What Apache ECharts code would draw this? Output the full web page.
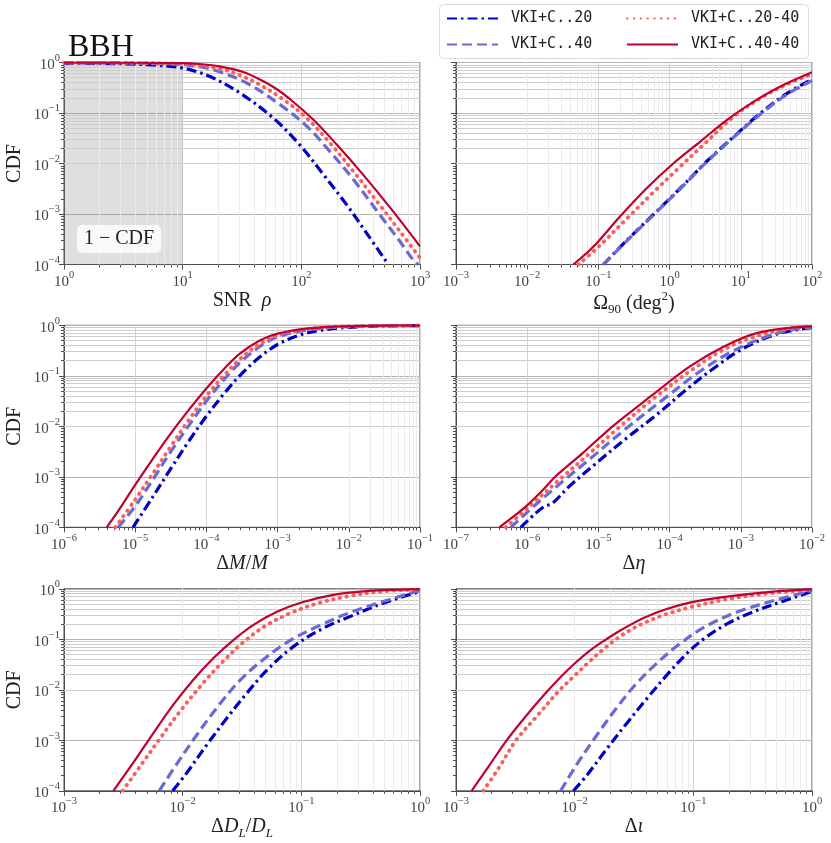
<!DOCTYPE html>
<html>
<head>
<meta charset="utf-8">
<title>BBH CDF</title>
<script src="https://cdn.jsdelivr.net/npm/echarts@6/dist/echarts.min.js"></script>
<style>
html, body { margin: 0; padding: 0; background: #fff; }
#main { width: 831px; height: 843px; }
</style>
</head>
<body>
<div id="main"></div>
<script>
// curves, stored as [log10 x, log10 CDF]
var seriesNames = ['VKI+C..20', 'VKI+C..40', 'VKI+C..20-40', 'VKI+C..40-40'];

// x axis ranges, in decades
var xDecades = [[0, 3], [-3, 2], [-6, -1], [-7, -2], [-3, 0], [-3, 0]];
var yDecades = [-4, 0];

// SNR rho (1 - CDF)
var snr20 = [[0,-0.012],[0.5,-0.025],[0.75,-0.05],[0.88,-0.07],[1.0,-0.109],[1.13,-0.19],[1.258,-0.307],[1.483,-0.604],[1.764,-1.10],[1.99,-1.64],[2.186,-2.22],[2.383,-2.82],[2.55,-3.38],[2.733,-4.0]];
var snr40 = [[0,-0.005],[0.5,-0.01],[0.75,-0.02],[1.0,-0.043],[1.13,-0.08],[1.258,-0.142],[1.54,-0.406],[1.82,-0.835],[2.045,-1.26],[2.24,-1.76],[2.44,-2.32],[2.66,-3.01],[2.83,-3.54],[2.94,-3.90],[2.985,-4.0]];
var snr2040 = [[0,-0.004],[0.5,-0.008],[0.75,-0.015],[1.0,-0.03],[1.31,-0.122],[1.48,-0.25],[1.65,-0.44],[1.85,-0.736],[2.045,-1.10],[2.24,-1.59],[2.44,-2.16],[2.66,-2.82],[2.83,-3.34],[3.0,-3.87]];
var snr4040 = [[0,-0.002],[0.5,-0.004],[0.75,-0.006],[1.0,-0.012],[1.14,-0.03],[1.31,-0.076],[1.51,-0.188],[1.68,-0.373],[1.80,-0.54],[1.91,-0.736],[2.1,-1.13],[2.3,-1.63],[2.52,-2.22],[2.75,-2.88],[3.0,-3.64]];

// Omega_90
var om20 = [[-0.93,-4],[-0.60,-3.52],[-0.22,-3.0],[0.15,-2.49],[0.52,-1.96],[0.90,-1.47],[1.27,-1.01],[1.65,-0.61],[2.0,-0.335]];
var om40 = [[-0.93,-4],[-0.60,-3.53],[-0.22,-3.01],[0.15,-2.5],[0.52,-1.97],[0.90,-1.48],[1.27,-1.03],[1.65,-0.63],[2.0,-0.36]];
var om2040 = [[-1.28,-4],[-0.97,-3.61],[-0.60,-3.09],[-0.22,-2.56],[0.15,-2.06],[0.52,-1.57],[0.90,-1.07],[1.27,-0.71],[1.65,-0.43],[2.0,-0.23]];
var om4040 = [[-1.352,-4],[-1.072,-3.65],[-0.697,-3.05],[-0.322,-2.49],[0.052,-2.0],[0.427,-1.57],[0.802,-1.14],[1.177,-0.78],[1.55,-0.48],[2.0,-0.195]];

// chirp mass
var mc20 = [[-5.03,-4],[-4.75,-3.39],[-4.51,-2.86],[-4.25,-2.3],[-4.0,-1.8],[-3.75,-1.35],[-3.5,-0.95],[-3.25,-0.63],[-3.0,-0.38],[-2.7,-0.2],[-2.4,-0.1],[-2.0,-0.04],[-1.5,-0.012],[-1,-0.005]];
var mc40 = [[-5.24,-4],[-5.0,-3.58],[-4.75,-3.05],[-4.51,-2.52],[-4.25,-1.99],[-4.0,-1.5],[-3.75,-1.07],[-3.53,-0.74],[-3.25,-0.42],[-3.0,-0.23],[-2.6,-0.095],[-2.2,-0.04],[-1.6,-0.01],[-1,-0.004]];
var mc2040 = [[-5.28,-4],[-5.0,-3.45],[-4.75,-2.93],[-4.51,-2.42],[-4.25,-1.88],[-4.0,-1.4],[-3.75,-0.99],[-3.53,-0.67],[-3.25,-0.37],[-3.0,-0.2],[-2.6,-0.08],[-2.2,-0.03],[-1.6,-0.008],[-1,-0.003]];
var mc4040 = [[-5.4,-4],[-5.24,-3.68],[-5.0,-3.16],[-4.75,-2.64],[-4.51,-2.16],[-4.25,-1.68],[-4.0,-1.25],[-3.75,-0.86],[-3.53,-0.56],[-3.25,-0.3],[-3.0,-0.165],[-2.6,-0.065],[-2.2,-0.025],[-1.6,-0.005],[-1,-0.002]];

// eta
var eta20 = [[-6.09,-4],[-5.88,-3.72],[-5.75,-3.58],[-5.65,-3.53],[-5.41,-3.19],[-5.03,-2.73],[-4.61,-2.24],[-4.19,-1.78],[-3.77,-1.28],[-3.35,-0.82],[-2.97,-0.46],[-2.55,-0.2],[-2.13,-0.066],[-2.0,-0.046]];
var eta40 = [[-6.23,-4],[-5.88,-3.55],[-5.5,-3.09],[-5.08,-2.6],[-4.66,-2.1],[-4.1,-1.48],[-3.58,-0.92],[-3.11,-0.51],[-2.65,-0.23],[-2.27,-0.085],[-2.0,-0.035]];
var eta2040 = [[-6.3,-4],[-5.97,-3.59],[-5.55,-3.06],[-5.15,-2.57],[-4.75,-2.07],[-4.19,-1.41],[-3.68,-0.875],[-3.21,-0.46],[-2.74,-0.2],[-2.32,-0.066],[-2.0,-0.025]];
var eta4040 = [[-6.39,-4],[-6.16,-3.75],[-5.99,-3.55],[-5.78,-3.26],[-5.6,-2.99],[-5.22,-2.53],[-4.8,-2.0],[-4.24,-1.38],[-3.72,-0.82],[-3.25,-0.43],[-2.79,-0.16],[-2.32,-0.05],[-2.0,-0.02]];

// luminosity distance
var dl20 = [[-2.084,-4],[-1.97,-3.66],[-1.80,-3.10],[-1.63,-2.57],[-1.46,-2.07],[-1.29,-1.61],[-1.07,-1.15],[-0.815,-0.78],[-0.56,-0.52],[-0.31,-0.285],[0,-0.053]];
var dl40 = [[-2.197,-4],[-2.05,-3.47],[-1.88,-2.89],[-1.71,-2.35],[-1.52,-1.82],[-1.32,-1.40],[-1.10,-1.03],[-0.84,-0.72],[-0.59,-0.47],[-0.31,-0.25],[0,-0.033]];
var dl2040 = [[-2.506,-4],[-2.36,-3.52],[-2.19,-2.96],[-2.02,-2.42],[-1.84,-1.90],[-1.66,-1.44],[-1.49,-1.06],[-1.30,-0.73],[-1.08,-0.47],[-0.857,-0.285],[-0.59,-0.14],[-0.31,-0.05],[0,-0.012]];
var dl4040 = [[-2.584,-4],[-2.416,-3.44],[-2.247,-2.86],[-2.08,-2.30],[-1.91,-1.80],[-1.74,-1.37],[-1.57,-1.01],[-1.40,-0.71],[-1.21,-0.46],[-1.0,-0.27],[-0.73,-0.12],[-0.45,-0.045],[0,-0.007]];

// inclination
var inc20 = [[-2.01,-4],[-1.90,-3.70],[-1.73,-3.17],[-1.56,-2.66],[-1.39,-2.17],[-1.22,-1.70],[-1.05,-1.27],[-0.90,-0.97],[-0.72,-0.70],[-0.50,-0.46],[-0.25,-0.25],[0,-0.053]];
var inc40 = [[-2.118,-4],[-1.98,-3.47],[-1.82,-2.92],[-1.66,-2.4],[-1.50,-1.93],[-1.32,-1.5],[-1.12,-1.1],[-0.90,-0.75],[-0.62,-0.45],[-0.30,-0.22],[0,-0.033]];
var inc2040 = [[-2.77,-4],[-2.64,-3.55],[-2.494,-3],[-2.31,-2.5],[-2.124,-2],[-2.0,-1.72],[-1.88,-1.45],[-1.76,-1.2],[-1.64,-0.98],[-1.52,-0.8],[-1.40,-0.66],[-1.25,-0.52],[-1.0,-0.35],[-0.7,-0.2],[-0.4,-0.1],[0,-0.02]];
var inc4040 = [[-2.868,-4],[-2.72,-3.5],[-2.573,-3],[-2.41,-2.52],[-2.25,-2.08],[-2.12,-1.75],[-2.0,-1.48],[-1.88,-1.24],[-1.76,-1.04],[-1.64,-0.86],[-1.52,-0.70],[-1.40,-0.56],[-1.25,-0.42],[-1.0,-0.26],[-0.7,-0.15],[-0.35,-0.06],[0,-0.007]];

var panelData = [
  [snr20, snr40, snr2040, snr4040],
  [om20, om40, om2040, om4040],
  [mc20, mc40, mc2040, mc4040],
  [eta20, eta40, eta2040, eta4040],
  [dl20, dl40, dl2040, dl4040],
  [inc20, inc40, inc2040, inc4040]
];

var axisNames = [
  '{t|SNR  }{i|ρ}',
  '{t|Ω}{sub|90}{t| (deg}{sup|2}{t|)}',
  '{t|Δ}{c|M}{t|/}{c|M}',
  '{t|Δ}{i|η}',
  '{t|Δ}{i|D}{isub|L}{t|/}{i|D}{isub|L}',
  '{t|Δ}{i|ι}'
];

var serif = 'Liberation Serif';
var lineStyles = [
  {color: '#0000c4', width: 3.2, type: [10, 4, 2.5, 4]},
  {color: '#6a6ad4', width: 3.2, type: [10, 5]},
  {color: '#ff5c57', width: 3.8, type: [0.5, 6.3], cap: 'round'},
  {color: '#c0002e', width: 2.2, type: 'solid'}
];

function toValues(pts) {
  return pts.map(function (p) { return [Math.pow(10, p[0]), Math.pow(10, p[1])]; });
}
function minorVals(lo, hi) {
  var out = [];
  for (var n = lo; n < hi; n++) {
    for (var k = 2; k <= 9; k++) out.push(k * Math.pow(10, n));
  }
  return out;
}
function powLabel(v) {
  var e = Math.round(Math.log10(v));
  return '{b|10}{e|' + (e < 0 ? '\u2212' + (-e) : e) + '}';
}

var labelRich = {
  b: {fontFamily: serif, fontSize: 15, color: '#444', lineHeight: 20, verticalAlign: 'bottom'},
  e: {fontFamily: serif, fontSize: 10.5, color: '#444', lineHeight: 12, verticalAlign: 'top'}
};
var nameRich = {
  t: {fontFamily: serif, fontSize: 20, color: '#222', lineHeight: 26, verticalAlign: 'middle'},
  i: {fontFamily: serif, fontSize: 20, fontStyle: 'italic', color: '#222', lineHeight: 26, verticalAlign: 'middle'},
  c: {fontFamily: serif, fontSize: 20, fontStyle: 'italic', color: '#222', lineHeight: 26, verticalAlign: 'middle'},
  sup: {fontFamily: serif, fontSize: 13, color: '#222', lineHeight: 14, verticalAlign: 'top'},
  sub: {fontFamily: serif, fontSize: 13, color: '#222', lineHeight: 12, verticalAlign: 'bottom'},
  isub: {fontFamily: serif, fontSize: 13, fontStyle: 'italic', color: '#222', lineHeight: 12, verticalAlign: 'bottom'}
};

var lefts = [64, 456];
var tops = [62.5, 325.3, 588.8];
var grids = [], xAxes = [], yAxes = [], series = [];

for (var i = 0; i < 6; i++) {
  var col = i % 2, row = Math.floor(i / 2);
  var xr = xDecades[i];
  grids.push({left: lefts[col], top: tops[row], width: 356, height: 202,
    show: true, borderColor: '#4d4d4d', borderWidth: 1, containLabel: false});
  xAxes.push({
    type: 'log', logBase: 10, gridIndex: i,
    min: Math.pow(10, xr[0]), max: Math.pow(10, xr[1]), splitNumber: 10,
    axisLine: {lineStyle: {color: '#4d4d4d'}},
    axisTick: {length: 5, lineStyle: {color: '#4d4d4d'}},
    minorTick: {show: true, splitNumber: 9, length: 3, lineStyle: {color: '#4d4d4d'}},
    splitLine: {show: true, lineStyle: {color: '#d4d4d4', width: 1}},
    axisLabel: {margin: 5, formatter: powLabel, rich: labelRich},
    name: axisNames[i], nameLocation: 'middle', nameGap: 23,
    nameTextStyle: {rich: nameRich}
  });
  yAxes.push({
    type: 'log', logBase: 10, gridIndex: i,
    min: Math.pow(10, yDecades[0]), max: Math.pow(10, yDecades[1]), splitNumber: 10,
    axisLine: {lineStyle: {color: '#4d4d4d'}},
    axisTick: {length: 5, lineStyle: {color: '#4d4d4d'}},
    minorTick: {show: true, splitNumber: 9, length: 3, lineStyle: {color: '#4d4d4d'}},
    splitLine: {show: true, lineStyle: {color: '#b4b4b4', width: 1}},
    axisLabel: {show: col === 0, margin: 4, formatter: powLabel, rich: labelRich},
    name: col === 0 ? 'CDF' : '', nameLocation: 'middle', nameGap: 39,
    nameTextStyle: {fontFamily: serif, fontSize: 20, color: '#222'}
  });

  // minor grid lines at 2..9 of every decade
  var minorLines = minorVals(yDecades[0], yDecades[1]).map(function (v) {
    return {yAxis: v, lineStyle: {color: '#cccccc', width: 1, type: 'solid'}};
  }).concat(minorVals(xr[0], xr[1]).map(function (v) {
    return {xAxis: v, lineStyle: {color: '#ebebeb', width: 1, type: 'solid'}};
  }));
  var helper = {
    type: 'line', xAxisIndex: i, yAxisIndex: i, silent: true, z: 1,
    symbol: 'none', lineStyle: {opacity: 0},
    data: [[Math.pow(10, xr[0]), 1e-4]],
    markLine: {silent: true, symbol: ['none', 'none'], label: {show: false}, z: 1,
      emphasis: {disabled: true}, data: minorLines}
  };
  if (i === 0) {
    helper.markArea = {silent: true, z: 1, itemStyle: {color: 'rgba(128,128,128,0.25)'},
      data: [[{xAxis: 1, yAxis: 1e-4}, {xAxis: 10, yAxis: 1}]]};
  }
  series.push(helper);

  for (var s = 0; s < 4; s++) {
    series.push({
      name: seriesNames[s], type: 'line', xAxisIndex: i, yAxisIndex: i, z: 3,
      data: toValues(panelData[i][s]), symbol: 'none', showSymbol: false,
      smooth: 0.35, clip: true,
      color: lineStyles[s].color, lineStyle: lineStyles[s]
    });
  }
}

var legendText = {fontFamily: 'DejaVu Sans Mono', fontSize: 15, color: '#222', lineHeight: 14, padding: [0, 0, 0, 8]};
var legendBase = {orient: 'vertical', top: 11, padding: 0, itemWidth: 51, itemHeight: 14, itemGap: 11,
  textStyle: legendText, selectedMode: false, itemStyle: {opacity: 0}};
var option = {
  backgroundColor: '#fff',
  animation: false,
  title: [
    {text: 'BBH', left: 63, top: 27, textStyle: {fontFamily: serif, fontSize: 32, fontWeight: 'normal', color: '#111'}},
    {text: '1 \u2212 CDF', left: 77, top: 225, padding: [4, 7], borderRadius: 5,
      backgroundColor: 'rgba(255,255,255,0.8)',
      textStyle: {fontFamily: serif, fontSize: 20, fontWeight: 'normal', color: '#222', lineHeight: 20}}
  ],
  graphic: [{type: 'rect', left: 439, top: 4, z: 0,
    shape: {width: 369, height: 54, r: 4},
    style: {fill: '#fff', stroke: '#dcdcdc', lineWidth: 1}}],
  legend: [
    Object.assign({data: [seriesNames[0], seriesNames[1]], left: 446}, legendBase),
    Object.assign({data: [seriesNames[2], seriesNames[3]], left: 626}, legendBase)
  ],
  grid: grids,
  xAxis: xAxes,
  yAxis: yAxes,
  series: series
};

var chart = echarts.init(document.getElementById('main'));
chart.setOption(option);
</script>
</body>
</html>
